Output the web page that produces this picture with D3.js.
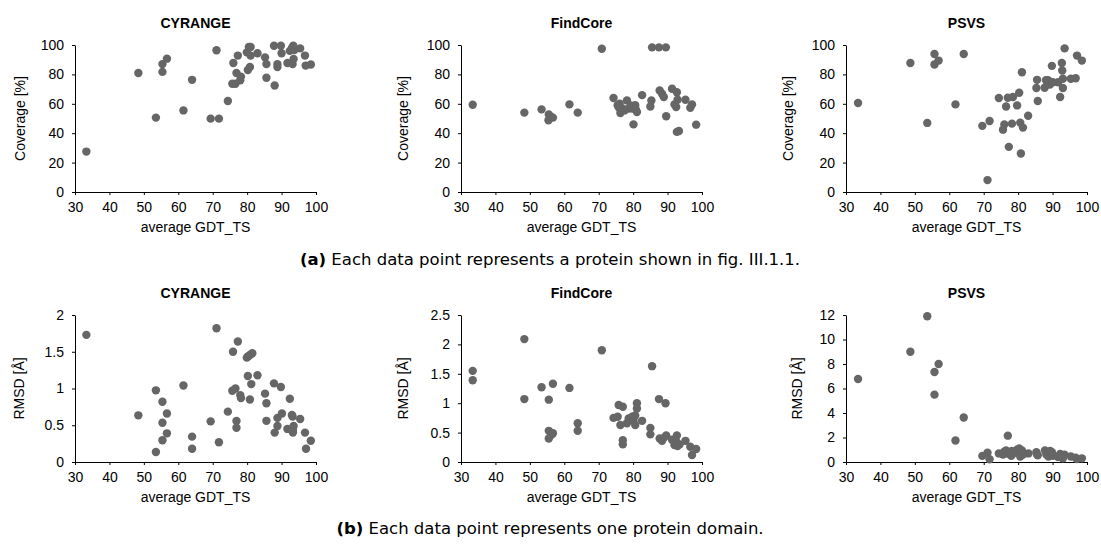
<!DOCTYPE html>
<html>
<head>
<meta charset="utf-8">
<script src="https://cdn.jsdelivr.net/npm/d3@7"></script>
<style>
  html, body { margin: 0; padding: 0; background: #fff; }
  svg { display: block; }
  .tick text { font-family: "Liberation Sans", Arial, sans-serif; font-size: 14px; fill: #000; }
  .domain, .tick line { stroke: #000; stroke-width: 1; }
</style>
</head>
<body>
<svg id="chart" width="1101" height="546"></svg>
<script>
// ---------- data ----------
const methods = ["CYRANGE", "FindCore", "PSVS"];
const xTicks = [30, 40, 50, 60, 70, 80, 90, 100];
const coverageTicks = [0, 20, 40, 60, 80, 100];
const rmsdTicksCyrange = [0, 0.5, 1, 1.5, 2];
const rmsdTicksFindCore = [0, 0.5, 1, 1.5, 2, 2.5];
const rmsdTicksPsvs = [0, 2, 4, 6, 8, 10, 12];
const xLabel = "average GDT_TS";
const coverageLabel = "Coverage [%]";
const rmsdLabel = "RMSD [Å]";
const captionA = ["(a)", " Each data point represents a protein shown in fig. III.1.1."];
const captionB = ["(b)", " Each data point represents one protein domain."];

// (a) coverage per protein
const cyrCovX = [33.3,48.4,53.5,55.4,55.4,56.7,61.5,64,69.4,71.1,71.8,74.4,76,75.7,76.6,76.9,77.3,78,78.2,79.9,80.2,80.8,80.5,81,81,83,85.2,85.6,85.6,87.8,88,88.8,88.8,89.8,90,91.7,92.4,93,93.4,93.7,93.2,93.5,95.4,96.8,97,98.5];
const cyrCovY = [27.5,81,50.6,81.7,87,90.7,55.5,76.3,49.9,96.4,49.9,61.9,87.8,73.6,73.6,81,92.8,76,78.5,95,83,85,98.6,98.6,92.8,94.4,91.6,87,77.7,99.5,72.5,87,85,99.5,94.4,87.8,96,98,99.5,96.5,87,90.5,97.7,92.8,86,86.7];

const fcCovX = [33.4,48.4,53.4,55.5,55.4,56.7,56.2,61.5,63.9,70.9,74.3,75.5,75.8,76.1,76.3,77,78.2,78.7,79.7,80.1,80.6,81.1,82.6,85,85.3,85.5,87.5,89.5,87.7,88.4,88.9,89.6,91.3,92,92.5,92.7,92.9,92.7,93.3,95.2,96.6,97.1,98.3,77.5,79.3,80.8];
const fcCovY = [59.4,54,56.2,52.8,48.8,50.6,51,59.6,54,97.5,63.9,59,57.6,60,53.7,56.7,62.3,56.7,56.7,46,59,54.4,65.9,58.2,62.3,98.4,98.4,98.4,69,66.8,64.6,51.5,70.2,59.6,57.8,67.9,62.8,40.9,41.5,62.8,57.3,59.6,45.8,55.5,58.8,56];

const psCovX = [33.5,48.7,53.6,55.7,55.7,56.9,61.8,64.2,69.6,71.1,71.7,74.4,75.6,76,76.5,77,77.3,78.2,78.5,79.7,80.3,80.6,80.8,81.1,81.4,82.9,85.3,85.5,85.7,87.7,88.1,88.7,89.2,89.8,90.1,91.6,92.2,92.7,92.8,93,93,93.5,95.3,96.7,97.1,98.5];
const psCovY = [60.5,87.8,47,93.9,86.7,89.4,59.6,93.9,45,8.1,48.3,63.9,42.4,46,58.2,64.1,30.7,46.5,64.6,58.9,67.5,47.2,26.2,81.5,43.8,51.9,70.7,76.3,61.9,70.9,76,76,73.1,85.8,74.7,74.7,64.6,87.8,82.6,77,70.7,97.7,77,77.4,92.8,89.4];

// (b) RMSD per domain
const cyrRmsdX = [33.3,48.4,53.5,53.5,55.4,55.4,55.4,56.7,56.7,61.5,64,64,69.4,71.1,71.8,74.4,75.9,75.7,76.6,76.9,76.9,77.3,78,78.2,79.9,80.3,80.9,81.5,80.2,80.8,81.2,83,85.2,85.6,85.6,87.8,88,88.8,88.8,89.8,90.1,91.7,92.4,93,93.2,93.3,93.5,93.3,95.4,96.8,97.1,98.5];
const cyrRmsdY = [1.73,0.635,0.975,0.136,0.82,0.535,0.295,0.66,0.39,1.04,0.345,0.18,0.553,1.82,0.268,0.685,1.50,0.97,1.0,0.558,0.467,1.64,0.91,0.87,1.42,1.44,1.46,1.48,1.17,0.85,1.06,1.18,0.93,0.80,0.56,1.07,0.40,0.60,0.49,1.02,0.66,0.45,0.86,0.64,0.62,0.40,0.49,0.435,0.585,0.40,0.18,0.29];

const fcRmsdX = [33.4,33.4,48.4,48.4,53.4,55.5,55.5,55.5,56.7,56.2,56.7,61.5,63.9,63.9,70.9,74.3,75.5,75.8,76.3,77,77,77,78.2,78.7,79.7,80.1,80.6,80.6,81.1,81.1,82.6,85,85,85.5,87.5,87.7,88.4,88.9,89.4,89.6,91.3,92,92.5,92.7,92.9,93.5,95.2,96.6,97.1,98.3];
const fcRmsdY = [1.55,1.39,2.09,1.07,1.27,1.06,0.53,0.40,0.49,0.46,1.33,1.26,0.66,0.53,1.90,0.75,0.77,0.97,0.63,0.94,0.37,0.30,0.66,0.74,0.77,0.71,0.79,0.63,1.0,0.91,0.70,0.58,0.47,1.63,1.07,0.40,0.36,0.41,1.0,0.45,0.38,0.29,0.35,0.45,0.27,0.30,0.36,0.26,0.12,0.22];

const psRmsdX = [33.5,48.7,53.6,55.7,55.7,56.9,61.8,64.2,69.6,71.1,71.7,74.4,75.6,76,76.5,77,77.3,78,78.2,78.5,79.7,80.3,80.6,80.8,81.1,81.4,83,85.3,85.5,85.7,87.8,88.2,88.8,89.3,89.8,90.1,91.6,92.2,92.7,93,93.5,95.3,96.7,97.1,98.5];
const psRmsdY = [6.78,9.0,11.9,7.35,5.5,8.0,1.75,3.63,0.5,0.75,0.22,0.7,0.6,0.85,0.95,2.15,0.65,0.5,0.9,0.7,1.0,1.1,0.45,0.8,0.95,0.6,0.7,0.8,0.6,0.55,0.95,0.6,0.45,0.9,0.8,0.5,0.4,0.65,0.5,0.3,0.6,0.45,0.35,0.25,0.3];

// ---------- layout ----------
const colX = [[75, 316], [461, 702], [846, 1087]];
const rowY = [[192, 45], [462, 315]];
const labelOffset = [[55, 58, 58], [56, 58, 49]];
const dotColor = "#666666";
const fontFam = '"Liberation Sans", Arial, sans-serif';

const panels = [
  { row: 0, col: 0, xs: cyrCovX, ys: cyrCovY, yDomain: [0, 100], yTicks: coverageTicks, yLabel: coverageLabel },
  { row: 0, col: 1, xs: fcCovX, ys: fcCovY, yDomain: [0, 100], yTicks: coverageTicks, yLabel: coverageLabel },
  { row: 0, col: 2, xs: psCovX, ys: psCovY, yDomain: [0, 100], yTicks: coverageTicks, yLabel: coverageLabel },
  { row: 1, col: 0, xs: cyrRmsdX, ys: cyrRmsdY, yDomain: [0, 2], yTicks: rmsdTicksCyrange, yLabel: rmsdLabel },
  { row: 1, col: 1, xs: fcRmsdX, ys: fcRmsdY, yDomain: [0, 2.5], yTicks: rmsdTicksFindCore, yLabel: rmsdLabel },
  { row: 1, col: 2, xs: psRmsdX, ys: psRmsdY, yDomain: [0, 12], yTicks: rmsdTicksPsvs, yLabel: rmsdLabel }
];

const svg = d3.select("#chart");

panels.forEach(p => {
  const xr = colX[p.col], yr = rowY[p.row];
  const x = d3.scaleLinear().domain([30, 100]).range(xr);
  const y = d3.scaleLinear().domain(p.yDomain).range(yr);
  const g = svg.append("g");

  g.append("g")
    .attr("transform", `translate(0,${yr[0]})`)
    .call(d3.axisBottom(x).tickValues(xTicks).tickSize(3).tickPadding(7).tickSizeOuter(0).tickFormat(d3.format("d")));
  g.append("g")
    .attr("transform", `translate(${xr[0]},0)`)
    .call(d3.axisLeft(y).tickValues(p.yTicks).tickSize(3).tickPadding(8).tickSizeOuter(0).tickFormat(d => String(d)));

  // title
  g.append("text")
    .attr("x", (xr[0] + xr[1]) / 2)
    .attr("y", yr[1] - 17)
    .attr("text-anchor", "middle")
    .style("font-family", fontFam).style("font-size", "14px").style("font-weight", "bold")
    .text(methods[p.col]);

  // x label
  g.append("text")
    .attr("x", (xr[0] + xr[1]) / 2)
    .attr("y", yr[0] + 40)
    .attr("text-anchor", "middle")
    .style("font-family", fontFam).style("font-size", "14px")
    .text(xLabel);

  // y label
  const cy = (yr[0] + yr[1]) / 2;
  const lx = xr[0] - labelOffset[p.row][p.col];
  g.append("text")
    .attr("transform", `translate(${lx},${cy}) rotate(-90)`)
    .attr("text-anchor", "middle")
    .attr("dy", "0.35em")
    .style("font-family", fontFam).style("font-size", "14px")
    .text(p.yLabel);

  // points
  g.append("g").selectAll("circle")
    .data(p.xs.map((v, i) => [v, p.ys[i]]))
    .join("circle")
    .attr("cx", d => x(d[0]))
    .attr("cy", d => y(d[1]))
    .attr("r", 4.2)
    .attr("fill", dotColor);
});

// captions
function caption(parts, yPos) {
  const t = svg.append("text")
    .attr("x", 550).attr("y", yPos)
    .attr("text-anchor", "middle")
    .style("font-family", '"DejaVu Sans", sans-serif').style("font-size", "16.5px").style("fill", "#000");
  t.append("tspan").style("font-weight", "bold").text(parts[0]);
  t.append("tspan").text(parts[1]);
}
caption(captionA, 265);
caption(captionB, 534);
</script>
</body>
</html>
